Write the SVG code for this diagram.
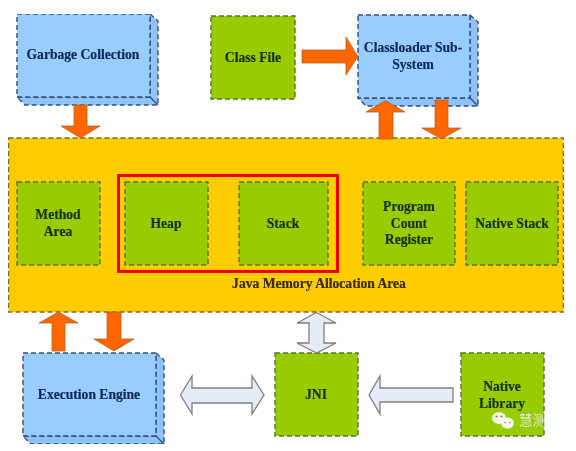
<svg xmlns="http://www.w3.org/2000/svg" width="576" height="451" viewBox="0 0 576 451">
<style>
text{font-family:"Liberation Serif","Noto Sans CJK SC",serif;font-weight:700;font-size:13.600px;text-anchor:middle}
.blue{fill:#99ccff;stroke:#2f5078;stroke-width:1.400;stroke-dasharray:5 3}
.side{fill:#8fc2f7;stroke:#2f5078;stroke-width:1.400;stroke-dasharray:5 3;stroke-linejoin:round}
.edge{fill:none;stroke:#2f5078;stroke-width:1.200}
.green{fill:#99cc00;stroke:#56742a;stroke-width:1.400;stroke-dasharray:5 3}
.main{fill:#ffcc00;stroke:#7a6a35;stroke-width:1.400;stroke-dasharray:5 3}
.or{fill:#ff6600;stroke:#b5622a;stroke-width:.8}
.wh{fill:#e6ecf7;stroke:#7f7f7f;stroke-width:1.300}
.tb{fill:#0f2a55;stroke:#0f2a55;stroke-width:.2}
.tg{fill:#13300a;stroke:#13300a;stroke-width:.2}
.ty{fill:#3a2a05;stroke:#3a2a05;stroke-width:.2}
</style>
<defs><filter id="soft" x="0" y="0" width="100%" height="100%"><feGaussianBlur stdDeviation="0.4"/></filter></defs>
<rect width="576" height="451" fill="#fff"/>
<g filter="url(#soft)">
<g id="node-memory-area">
<rect class="main" x="8.500" y="138" width="555" height="174"/>
<text class="ty" x="319" y="288">Java Memory Allocation Area</text>
</g>
<g id="node-garbage-collection">
<path class="side" d="M150 14L158 21V105H25L17 97H150Z"/>
<rect class="blue" x="17" y="14" width="133" height="83"/>
<path class="edge" d="M150 97L158 105"/>
<text class="tb" x="83" y="59">Garbage Collection</text>
</g>
<g id="node-class-file">
<rect class="green" x="211" y="16" width="84" height="83"/>
<text class="tg" x="253" y="62">Class File</text>
</g>
<g id="node-classloader">
<path class="side" d="M470 15L478 22V106H366L358 98H470Z"/>
<rect class="blue" x="358" y="15" width="112" height="83"/>
<path class="edge" d="M470 98L478 106"/>
<text class="tb" x="413" y="52">Classloader Sub-</text>
<text class="tb" x="413" y="69">System</text>
</g>
<g id="node-method-area">
<rect class="green" x="17" y="182" width="83" height="83"/>
<text class="tg" x="58" y="219">Method</text>
<text class="tg" x="58" y="236">Area</text>
</g>
<g id="node-heap">
<rect class="green" x="125" y="182" width="83" height="83"/>
<text class="tg" x="166" y="228">Heap</text>
</g>
<g id="node-stack">
<rect class="green" x="239" y="182" width="89" height="83"/>
<text class="tg" x="283" y="228">Stack</text>
</g>
<rect id="highlight" x="118.500" y="175.500" width="219" height="96" fill="none" stroke="#f00000" stroke-width="3"/>
<g id="node-program-count-register">
<rect class="green" x="363" y="182" width="92" height="83"/>
<text class="tg" x="409" y="211">Program</text>
<text class="tg" x="409" y="228">Count</text>
<text class="tg" x="409" y="244">Register</text>
</g>
<g id="node-native-stack">
<rect class="green" x="466" y="182" width="92" height="83"/>
<text class="tg" x="512" y="228">Native Stack</text>
</g>
<g id="node-execution-engine">
<path class="side" d="M156 353L164 360V444H31L23 436H156Z"/>
<rect class="blue" x="23" y="353" width="133" height="83"/>
<path class="edge" d="M156 436L164 444"/>
<text class="tb" x="89" y="399">Execution Engine</text>
</g>
<g id="node-jni">
<rect class="green" x="275" y="353" width="83" height="83"/>
<text class="tg" x="316" y="399">JNI</text>
</g>
<g id="node-native-library">
<rect class="green" x="461" y="353" width="83" height="83"/>
<text class="tg" x="502" y="391">Native</text>
<text class="tg" x="502" y="408">Library</text>
</g>
<g id="connectors">
<path class="or" d="M74 105H87V126H100L80.500 138L61 126H74Z"/>
<path class="or" d="M302 50H346V37L358 56.500L346 75V63H302Z"/>
<path class="or" d="M379 139V112H366L385.500 100.500L405 112H393V139Z"/>
<path class="or" d="M435 100H448V128H461L441.500 139L422 128H435Z"/>
<path class="or" d="M52 351V323H39L58.500 312L78 323H65V351Z"/>
<path class="or" d="M107 312H121V339H134L114 351L94 339H107Z"/>
<path class="wh" d="M316.500 312.500L336 323H324V343H336L316.500 353L297 343H309V323H297Z"/>
<path class="wh" d="M180.500 395L192 376V388H252V376L264 395L252 414V403H192V414Z"/>
<path class="wh" d="M369 395L380 376V388H453V402H380V414Z"/>
</g>
<g id="watermark">
<ellipse cx="499" cy="418" rx="7" ry="6" fill="#f4f8ea"/>
<ellipse cx="507.500" cy="423" rx="6.500" ry="5.500" fill="#f4f8ea"/>
<circle cx="496.500" cy="416.500" r="1" fill="#6f8f20"/>
<circle cx="501.500" cy="416.500" r="1" fill="#6f8f20"/>
<circle cx="505" cy="422.500" r=".8" fill="#6f8f20"/>
<circle cx="510" cy="422.500" r=".8" fill="#6f8f20"/>
<text x="532.500" y="425" style="font-size:13.500px;font-weight:400;stroke:none;fill:#dfe6d0">慧测</text>
</g>
</g>
</svg>
